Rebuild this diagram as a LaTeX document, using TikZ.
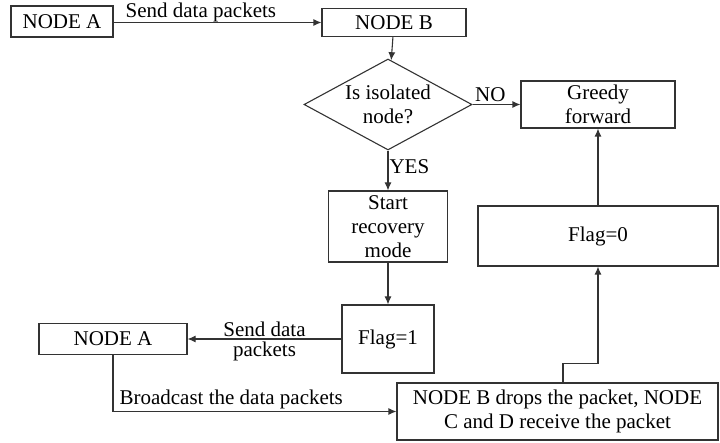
\documentclass[tikz,border=0pt]{standalone}
\usepackage{fontspec}
\setmainfont{Liberation Serif}
\newfontfamily\flowfont{Liberation Serif}
\usetikzlibrary{arrows.meta,shapes.geometric,positioning}

\begin{document}
\begin{tikzpicture}[x=1pt,y=-1pt,>={Latex[length=8pt,width=7pt]},
box/.style={rectangle,draw=black!80,line width=1.1pt,inner sep=0pt,align=center,
font=\flowfont\fontsize{21}{24}\selectfont},
decision/.style={diamond,draw=black!80,line width=1.1pt,inner sep=0pt,aspect=1.85,
align=center,font=\flowfont\fontsize{21}{24}\selectfont},
lbl/.style={font=\flowfont\fontsize{21}{24}\selectfont,inner sep=2pt},
link/.style={->,draw=black!80,line width=1.1pt}]
    \useasboundingbox (0,0) rectangle (720,443);
    % boxes
    \node[box,minimum width=102pt,minimum height=31pt] (srcA) at (62,21.5) {NODE A};
    \node[box,minimum width=144pt,minimum height=28pt] (dstB) at (394,22.5) {NODE B};
    \node[decision,minimum width=168pt,minimum height=91pt] (isol) at (388,104.5) {Is isolated\\node?};
    \node[box,minimum width=154pt,minimum height=47pt] (greedy) at (598,104.5) {Greedy\\forward};
    \node[box,minimum width=119pt,minimum height=71pt] (recov) at (388,226.5) {Start\\recovery\\mode};
    \node[box,minimum width=240pt,minimum height=60pt] (flagzero) at (598,236) {Flag=0};
    \node[box,minimum width=92pt,minimum height=68pt] (flagone) at (388,339) {Flag=1};
    \node[box,minimum width=148pt,minimum height=31pt] (srcA2) at (113,339) {NODE A};
    \node[box,minimum width=321pt,minimum height=57pt] (drops) at (557.5,411.5)
        {NODE B drops the packet, NODE\\C and D receive the packet};
    % arrows
    \draw[link] (srcA.east|-dstB) -- node[lbl,above,pos=0.42,inner sep=0pt] {Send data packets} (dstB);
    \draw[link] (dstB) -- (isol);
    \draw[link] (isol.east) -- node[lbl,pos=0,anchor=south west] {NO} (greedy);
    \draw[link] (isol.south) -- node[lbl,pos=0.4,right,inner sep=1pt] {YES} (recov);
    \draw[link] (recov) -- (flagone);
    \draw[link] (flagone) -- node[lbl,above] {Send data} node[lbl,below] {packets} (srcA2);
    \draw[link] (srcA2.south) |- node[lbl,pos=0.5,anchor=south west,xshift=4pt] {Broadcast the data packets} (drops.west);
    \draw[link] ([xshift=5.5pt]drops.north) -- ++(0,-19) -| (flagzero.south);
    \draw[link] (flagzero) -- (greedy);
\end{tikzpicture}
\end{document}
